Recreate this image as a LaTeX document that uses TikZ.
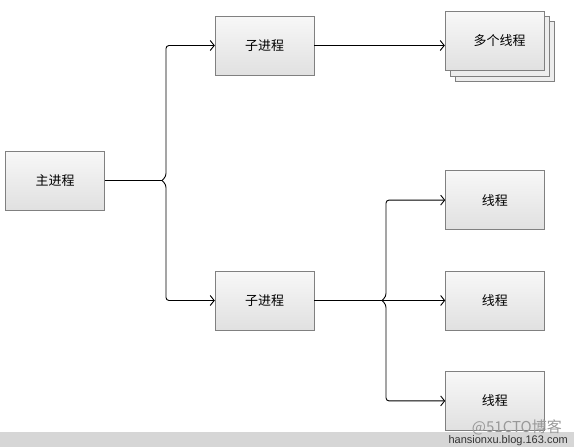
\documentclass[tikz,border=0pt]{standalone}
\usepackage{fontspec}
\newfontfamily\cjk{Noto Sans CJK SC}
\usetikzlibrary{arrows.meta,positioning,backgrounds}

\begin{document}
\begin{tikzpicture}[x=1pt,y=-1pt,>={Straight Barb[length=4pt,width=10pt]},
    node distance=41pt,
    box/.style={draw=black!50,top color=black!3,bottom color=black!12,
      minimum width=99pt,minimum height=59pt,inner sep=0pt,font=\cjk\fontsize{13}{13}\selectfont},
    shadowbox/.style={draw=black!50,fill=black!7},
    link/.style={line width=0.9pt,rounded corners=3pt}]
      \useasboundingbox (0,0) rectangle (574,447);

      \node[box] (main) at (55,180.5) {主进程};
      \node[box] (sub1) at (264.5,45.5) {子进程};
      \node[box] (sub2) at (264.5,300.5) {子进程};
      \node[box] (multi) at (494.5,41) {\hspace*{10pt}多个线程};
      \node[box] (t2) [right=131pt of sub2] {线程};
      \node[box] (t1) [above=of t2] {线程};
      \node[box] (t3) [below=of t2] {线程};

      % copies behind the box of many threads
      \begin{scope}[on background layer]
        \draw[shadowbox] ([shift={(10,10)}]multi.north west) rectangle ([shift={(10,10)}]multi.south east);
        \draw[shadowbox] ([shift={(5,5)}]multi.north west) rectangle ([shift={(5,5)}]multi.south east);
      \end{scope}

      \coordinate (j1) at (162,180.5);
      \coordinate (j2) at (382,300.5);

      \draw[link] (main.east) -- (j1);
      \draw[link,->] (j1) -- ++(4,-4) |- (sub1.west);
      \draw[link,->] (j1) -- ++(4,4) |- (sub2.west);
      \draw[link,->] (sub1.east) -- (sub1.east -| multi.west);

      \draw[link] (sub2.east) -- (j2);
      \draw[link,->] (j2) -- ++(4,-4) |- (t1.west);
      \draw[link,->] (j2) -- (t2.west);
      \draw[link,->] (j2) -- ++(4,4) |- (t3.west);

      % band at the foot
      \fill[black!16] (0,432) rectangle (574,447);
      \node[font=\cjk\fontsize{15}{15}\selectfont,text=black!40,anchor=south east,inner sep=0pt] (mark) at (562,435) {@51CTO博客};
      \node[font=\fontspec{Liberation Sans}\fontsize{11}{11}\selectfont,text=black!80,anchor=south east,inner sep=0pt] (site) at (568,446) {hansionxu.blog.163.com};
\end{tikzpicture}
\end{document}
